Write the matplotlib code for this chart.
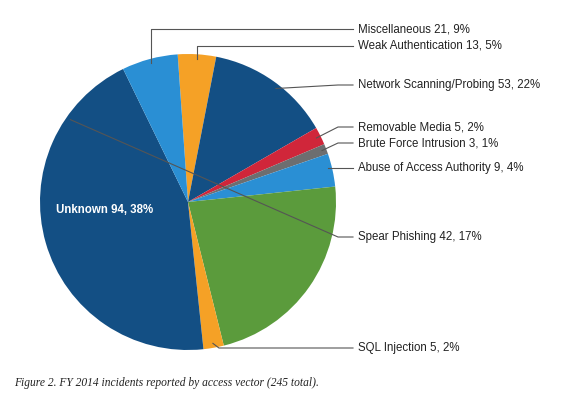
import matplotlib.pyplot as plt
import numpy as np
from matplotlib.lines import Line2D

categories = ["Weak Authentication", "Network Scanning/Probing", "Removable Media",
              "Brute Force Intrusion", "Abuse of Access Authority", "Spear Phishing",
              "SQL Injection", "Unknown", "Miscellaneous"]
values = [13, 53, 5, 3, 9, 42, 5, 94, 21]
percents = [5, 22, 2, 1, 4, 17, 2, 38, 9]
# wedge sizes as drawn in the reference (degrees)
drawn_degrees = [15, 49, 7, 4, 13, 82, 8, 160, 22]
colors = ["#f5a126", "#134f84", "#d0263a", "#6d6e70", "#2a8fd4", "#5b9b3c",
          "#f5a126", "#134f84", "#2a8fd4"]
label_y_px = [46, 85, 127, 143, 168, 237, 348, None, 29]

W, H = 574, 404
fig = plt.figure(figsize=(W/100, H/100), dpi=100)
cx, cy, R = 188, 202, 148
ax = fig.add_axes([(cx-R)/W, (H-cy-R)/H, 2*R/W, 2*R/H])
wedges, _ = ax.pie(drawn_degrees, colors=colors, startangle=94, counterclock=False,
                   radius=1, wedgeprops=dict(linewidth=0))
ax.set_xlim(-1, 1); ax.set_ylim(-1, 1); ax.set_aspect('auto'); ax.axis('off')

def fig_line(xs, ys):
    fig.add_artist(Line2D([x/W for x in xs], [1-y/H for y in ys],
                          transform=fig.transFigure, color="#555555", lw=0.8))

for w, cat, v, p, ly in zip(wedges, categories, values, percents, label_y_px):
    if ly is None:
        continue
    t1, t2 = sorted((w.theta1 % 360, w.theta2 % 360))
    ang = np.deg2rad((t1 + t2) / 2)
    if cat in ("Miscellaneous", "Weak Authentication"):
        ang = np.deg2rad((w.theta1 + w.theta2) / 2)
        ex, ey = cx + R*0.97*np.cos(ang), cy - R*0.97*np.sin(ang)
        fig_line([ex, ex, 353], [ey, ly, ly])
    elif cat == "SQL Injection":
        ex, ey = cx + R*0.97*np.cos(ang), cy - R*0.97*np.sin(ang)
        fig_line([ex, ex+6, 353], [ey, ly, ly])
    else:
        a_at = np.rad2deg(np.arcsin(np.clip((cy-ly)/R, -1, 1)))
        if t1 + 1 <= a_at <= t2 - 1:
            ang = np.deg2rad(a_at)
        ex, ey = cx + R*0.97*np.cos(ang), cy - R*0.97*np.sin(ang)
        if abs(ey - ly) < 2:
            fig_line([ex, 353], [ly, ly])
        else:
            fig_line([ex, 338, 353], [ey, ly, ly])
    fig.text(358/W, 1-ly/H, f"{cat} {v}, {p}%", fontsize=8.3, va="center",
             ha="left", color="#222222", family="Liberation Sans")

fig.text(105/W, 1-210/H, f"Unknown {values[7]}, {percents[7]}%", color="white",
         fontweight="bold", fontsize=8.3, ha="center", va="center", family="Liberation Sans")
fig.text(14/W, 1-383/H, "Figure 2. FY 2014 incidents reported by access vector (245 total).",
         fontsize=8.3, style="italic", family="Liberation Serif", va="center", color="#222222")
fig.savefig("out.png", dpi=100)
